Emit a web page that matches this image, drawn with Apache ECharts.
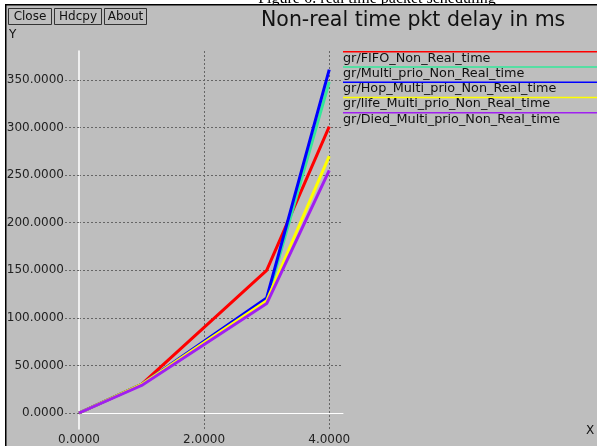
<!DOCTYPE html>
<html>
<head>
<meta charset="utf-8">
<script src="https://cdn.jsdelivr.net/npm/echarts@6/dist/echarts.min.js"></script>
<style>
  html, body { margin: 0; padding: 0; background: #fff; }
  #delayChart { width: 597px; height: 446px; }
</style>
</head>
<body>
<div id="delayChart"></div>
<script>
// x positions of the samples
const xValues = [0, 1, 3, 4];
// series (same order as the legend)
const seriesNames = [
  'gr/FIFO_Non_Real_time',
  'gr/Multi_prio_Non_Real_time',
  'gr/Hop_Multi_prio_Non_Real_time',
  'gr/life_Multi_prio_Non_Real_time',
  'gr/Died_Multi_prio_Non_Real_time'
];
const fifoDelay = [0, 30, 150, 301];
const multiPrioDelay = [0, 30, 118, 348];
const hopDelay = [0, 30, 121, 361];
const lifeDelay = [0, 30, 118, 270];
const diedDelay = [0, 29, 115, 255];
const seriesColors = ['#ff0000', '#33e89a', '#0000ff', '#ffff00', '#a020f0'];
const buttonLabels = ['Close', 'Hdcpy', 'About'];

const allData = [fifoDelay, multiPrioDelay, hopDelay, lifeDelay, diedDelay];
const fmt = v => v.toFixed(4);
const font = 'DejaVu Sans';

function buildSeries() {
  return allData.map((vals, i) => ({
    name: seriesNames[i],
    type: 'line',
    xAxisIndex: 0,
    yAxisIndex: 0,
    showSymbol: false,
    clip: false,
    animation: false,
    lineStyle: { color: seriesColors[i], width: 3 },
    itemStyle: { color: seriesColors[i] },
    data: vals.map((v, k) => [xValues[k], v])
  }));
}

function buildGraphic() {
  const els = [];
  // white frame strip + black border
  els.push({ type: 'rect', shape: { x: 0, y: 0, width: 597, height: 4 }, style: { fill: '#fff' } });
  els.push({ type: 'rect', shape: { x: 0, y: 0, width: 5, height: 446 }, style: { fill: '#fff' } });
  els.push({
    type: 'text', x: 377, y: 7,
    style: { text: 'Figure 6: real time packet scheduling', font: '16px "Liberation Serif"', fill: '#000', align: 'center', verticalAlign: 'bottom' }
  });
  els.push({ type: 'rect', shape: { x: 230, y: 5, width: 300, height: 8 }, style: { fill: '#bebebe' } });
  els.push({ type: 'rect', shape: { x: 5, y: 4, width: 592, height: 1.5 }, style: { fill: '#000' } });
  els.push({ type: 'rect', shape: { x: 5, y: 4, width: 1.5, height: 442 }, style: { fill: '#000' } });

  // buttons
  const btnX = [8, 54, 104];
  const btnW = [43, 47, 42];
  buttonLabels.forEach((b, i) => {
    els.push({ type: 'rect', shape: { x: btnX[i] + 0.5, y: 8.5, width: btnW[i], height: 16 }, style: { fill: 'none', stroke: '#333', lineWidth: 1 } });
    els.push({ type: 'text', x: btnX[i] + btnW[i] / 2 + 0.5, y: 17, style: { text: b, font: '12px "' + font + '"', fill: '#111', align: 'center', verticalAlign: 'middle' } });
  });

  // title and axis names
  els.push({ type: 'text', x: 261, y: 21, style: { text: 'Non-real time pkt delay in ms', font: '20.5px "' + font + '"', fill: '#111', verticalAlign: 'middle' } });
  els.push({ type: 'text', x: 9, y: 35, style: { text: 'Y', font: '12px "' + font + '"', fill: '#111', verticalAlign: 'middle' } });
  els.push({ type: 'text', x: 586, y: 431, style: { text: 'X', font: '12px "' + font + '"', fill: '#111', verticalAlign: 'middle' } });

  // legend: colour line over each name
  seriesNames.forEach((n, i) => {
    const ly = 51.7 + 15.25 * i;
    els.push({ type: 'line', shape: { x1: 343, y1: ly, x2: 597, y2: ly }, style: { stroke: seriesColors[i], lineWidth: 1.5 } });
    els.push({ type: 'text', x: 343, y: ly + 6.5, style: { text: n, font: '12.8px "' + font + '"', fill: '#111', verticalAlign: 'middle' } });
  });
  return els;
}

const option = {
  backgroundColor: '#bebebe',
  animation: false,
  grid: [
    { left: 79, right: 254, top: 80, bottom: 33 },
    { left: 79, right: 254, top: 51, bottom: 15 }
  ],
  xAxis: [
    {
      gridIndex: 0, type: 'value', min: 0, max: 4.22, interval: 2,
      axisLine: { show: true, lineStyle: { color: '#ffffff', width: 1 } },
      axisTick: { show: false }, axisLabel: { show: false }, splitLine: { show: false }
    },
    {
      gridIndex: 1, type: 'value', min: 0, max: 4.22, interval: 2,
      axisLine: { show: false }, axisTick: { show: false },
      axisLabel: { show: true, margin: 5, formatter: fmt, showMaxLabel: false, color: '#222', fontFamily: font, fontSize: 12 },
      splitLine: { show: true, showMinLine: false, showMaxLine: false, lineStyle: { color: '#666', type: [2, 2], width: 1 } }
    }
  ],
  yAxis: [
    {
      gridIndex: 0, type: 'value', min: 0, max: 350, interval: 50,
      axisLine: { show: false },
      axisTick: { show: true, length: 14, lineStyle: { color: '#666', type: [2, 2] } },
      axisLabel: { margin: 15, formatter: fmt, color: '#222', fontFamily: font, fontSize: 12 },
      splitLine: { show: true, lineStyle: { color: '#666', type: [2, 2], width: 1 } }
    },
    {
      gridIndex: 1, type: 'value', min: 0, max: 1,
      axisLine: { show: true, lineStyle: { color: '#ffffff', width: 1.5 } },
      axisTick: { show: false }, axisLabel: { show: false }, splitLine: { show: false }
    }
  ],
  graphic: { elements: buildGraphic() },
  series: buildSeries()
};

const delayChart = echarts.init(document.getElementById('delayChart'));
delayChart.setOption(option);
</script>
</body>
</html>
